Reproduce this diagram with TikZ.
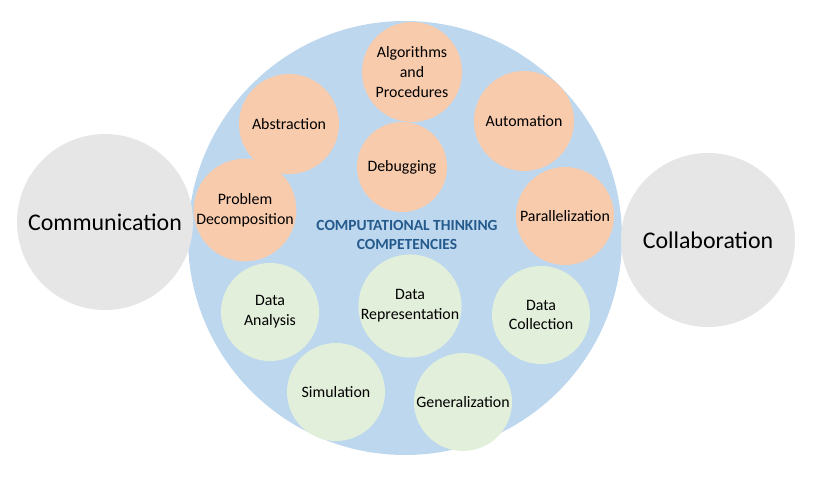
\documentclass[tikz,border=0pt]{standalone}
\usepackage{fontspec}
\setmainfont{Carlito}
\usetikzlibrary{positioning}
\definecolor{ctblue}{HTML}{BDD7EE}
\definecolor{ctorange}{HTML}{F8CBAD}
\definecolor{ctgreen}{HTML}{E2EFDA}
\definecolor{ctgray}{HTML}{E7E6E6}
\definecolor{cttext}{HTML}{245A8C}

\begin{document}
\begin{tikzpicture}[
    skill/.style={circle, minimum size=2.45cm, inner sep=0pt, align=center, font=\fontsize{11.3}{14}\selectfont},
    core/.style={skill, fill=ctorange},
    data/.style={skill, fill=ctgreen},
    soft/.style={circle, fill=ctgray, minimum size=4.4cm, inner sep=0pt, font=\fontsize{17}{20}\selectfont}
]
\useasboundingbox (0,0) rectangle (20.6,11.925);

\node[circle, fill=ctblue, minimum size=10.85cm, inner sep=0pt] (ct) at (10.125,5.975) {};
\node[soft] (comm) at (2.625,6.375) {Communication};
\node[soft, minimum size=4.35cm] (collab) at (17.7,5.925) {Collaboration};

\node[core, minimum size=2.5cm] (algo) at (10.3,10.125) {Algorithms\\and\\Procedures};
\node[core, minimum size=2.5cm] (abstr) at (7.225,8.825) {Abstraction};
\node[core, minimum size=2.5cm] (auto) at (13.1,8.9) {Automation};
\node[core, minimum size=2.25cm] (debug) at (10.05,7.75) {Debugging};
\node[core] (decomp) at (6.125,6.675) {Problem\\Decomposition};
\node[core] (para) at (14.125,6.525) {Parallelization};

\node[data] (analysis) at (6.75,4.125) {Data\\Analysis};
\node[data] (repr) at (10.25,4.275) {Data\\Representation};
\node[data] (collect) at (13.525,4.05) {Data\\Collection};
\node[data] (sim) at (8.4,2.125) {Simulation};
\node[data] (gen) at (11.575,1.875) {Generalization};

\node[align=center, text=cttext, font=\bfseries\fontsize{11}{14}\selectfont] (title) at (10.175,6.05) {COMPUTATIONAL THINKING\\COMPETENCIES};
\end{tikzpicture}
\end{document}
